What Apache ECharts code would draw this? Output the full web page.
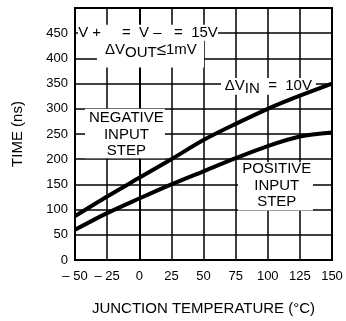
<!DOCTYPE html>
<html><head><meta charset="utf-8">
<script src="https://cdn.jsdelivr.net/npm/echarts@6/dist/echarts.min.js"></script>
<style>html,body{margin:0;padding:0;background:#fff}#c{width:346px;height:321px}</style>
</head><body><div id="c"></div>
<script>
// ---- data ----
const temperatures = [-50, -25, 0, 25, 50, 75, 100, 125, 150];
const negativeInputStep = [87, 126, 163, 200, 238, 270, 300, 326, 350];
const positiveInputStep = [60, 93, 122, 150, 176, 202, 226, 245, 253];
const xTickLabels = ['– 50', '– 25', '0', '25', '50', '75', '100', '125', '150'];
const yTickValues = [0, 50, 100, 150, 200, 250, 300, 350, 400, 450];

const FONT = '"Liberation Sans", Arial, Helvetica, sans-serif';
const chart = echarts.init(document.getElementById('c'), null, {renderer: 'canvas'});

const lineStyle = {color: '#000', width: 4};
chart.setOption({
  animation: false,
  backgroundColor: '#fff',
  grid: {left: 75, right: 14, top: 8, bottom: 58, show: true, borderColor: '#000', borderWidth: 2},
  xAxis: {
    type: 'value', min: -50, max: 150, interval: 25,
    axisLine: {show: true, onZero: false, lineStyle: {color: '#000', width: 2}},
    axisTick: {show: false},
    splitLine: {show: true, lineStyle: {color: '#000', width: 1.5}},
    axisLabel: {color: '#000', fontFamily: FONT, fontSize: 13, margin: 10,
      formatter: v => { const i = temperatures.indexOf(v); return i >= 0 ? xTickLabels[i] : ''; }},
    name: 'JUNCTION TEMPERATURE (°C)', nameLocation: 'middle', nameGap: 41,
    nameTextStyle: {color: '#000', fontFamily: FONT, fontSize: 15}
  },
  yAxis: {
    type: 'value', min: 0, max: 500, interval: 50,
    axisLine: {show: true, lineStyle: {color: '#000', width: 2}},
    axisTick: {show: false},
    splitLine: {show: true, lineStyle: {color: '#000', width: 1.5}},
    axisLabel: {color: '#000', fontFamily: FONT, fontSize: 13, margin: 7,
      formatter: v => yTickValues.indexOf(v) >= 0 ? String(v) : ''},
    name: 'TIME (ns)', nameLocation: 'middle', nameGap: 50,
    nameTextStyle: {color: '#000', fontFamily: FONT, fontSize: 15}
  },
  series: [
    {type: 'line', name: 'NEGATIVE INPUT STEP', data: temperatures.map((t, i) => [t, negativeInputStep[i]]),
     showSymbol: false, smooth: 0.3, lineStyle, z: 2},
    {type: 'line', name: 'POSITIVE INPUT STEP', data: temperatures.map((t, i) => [t, positiveInputStep[i]]),
     showSymbol: false, smooth: 0.3, lineStyle, z: 2}
  ]
});

// ---- annotations (anchored in data coordinates) ----
const px = p => chart.convertToPixel({gridIndex: 0}, p);
function mask(x0, y0, x1, y1) {
  const a = px([x0, y0]), b = px([x1, y1]);
  return {type: 'rect', z: 1, silent: true,
    shape: {x: Math.min(a[0], b[0]), y: Math.min(a[1], b[1]), width: Math.abs(b[0] - a[0]), height: Math.abs(b[1] - a[1])},
    style: {fill: '#fff'}};
}
const rich = {
  a: {fontFamily: FONT, fontSize: 15, fill: '#000', color: '#000'},
  b: {fontFamily: FONT, fontSize: 17, fill: '#000', color: '#000'},
  s: {fontFamily: FONT, fontSize: 15, fill: '#000', color: '#000', padding: [6, 0, 0, 0]}
};
function label(x, y, text) {
  const p = px([x, y]);
  return {type: 'text', z: 3, silent: true, x: p[0], y: p[1],
    style: {text, fontFamily: FONT, fontSize: 15, fill: '#000', align: 'center', verticalAlign: 'middle', lineHeight: 16.5, rich}};
}
chart.setOption({
  graphic: [
    mask(-47.7, 467, 61.3, 435),
    mask(-32.9, 437, 50.4, 382),
    mask(63.6, 361, 137.5, 328),
    mask(-42.2, 300, 20, 202),
    mask(76.8, 194, 135.2, 98),
    label(6.8, 450, 'V +     =  V –   =  15V'),
    label(9.1, 416, '{a|ΔV}{s|OUT}{b|≤}{a|1mV}'),
    label(100.5, 346, '{a|ΔV}{s|IN}{a|  =  10V}'),
    label(-10, 249, 'NEGATIVE\nINPUT\nSTEP'),
    label(107, 148, 'POSITIVE\nINPUT\nSTEP')
  ]
});
</script>
</body></html>
